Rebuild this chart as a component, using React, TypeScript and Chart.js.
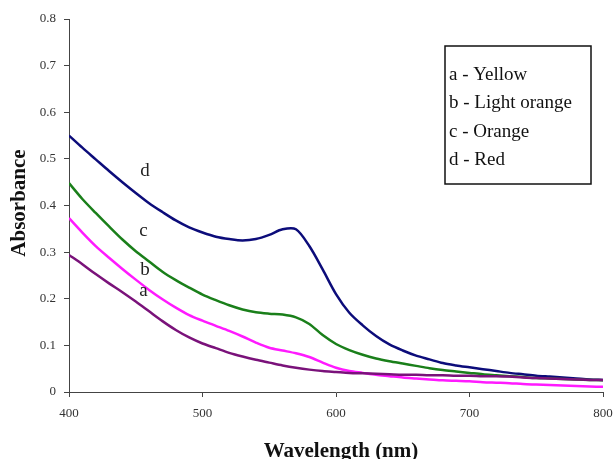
import React, { useEffect, useRef } from "react";
import { Chart, registerables } from "chart.js";

Chart.register(...registerables);

const wavelengths = [
  400, 410, 420, 430, 440, 450, 460, 470, 480, 490, 500, 510, 520, 530, 540, 550, 560, 570, 580, 590,
  600, 610, 620, 630, 640, 650, 660, 670, 680, 690, 700, 710, 720, 730, 740, 750, 760, 770, 780, 790, 800,
];

const seriesA = [
  0.294, 0.274, 0.253, 0.233, 0.214, 0.194, 0.173, 0.152, 0.133, 0.117, 0.104, 0.094, 0.084, 0.076, 0.069,
  0.063, 0.057, 0.052, 0.048, 0.045, 0.043, 0.041, 0.040, 0.039, 0.038, 0.037, 0.037, 0.036, 0.036, 0.035,
  0.035, 0.034, 0.034, 0.033, 0.031, 0.030, 0.029, 0.028, 0.027, 0.026, 0.026,
];

const seriesB = [
  0.373, 0.342, 0.313, 0.288, 0.264, 0.241, 0.219, 0.199, 0.181, 0.165, 0.153, 0.142, 0.131, 0.119, 0.106,
  0.095, 0.089, 0.083, 0.075, 0.063, 0.052, 0.045, 0.041, 0.037, 0.034, 0.031, 0.029, 0.027, 0.025, 0.024,
  0.023, 0.021, 0.020, 0.019, 0.017, 0.016, 0.015, 0.014, 0.013, 0.012, 0.011,
];

const seriesC = [
  0.448, 0.414, 0.384, 0.355, 0.327, 0.302, 0.280, 0.258, 0.240, 0.224, 0.209, 0.197, 0.186, 0.177, 0.171,
  0.168, 0.166, 0.160, 0.146, 0.122, 0.103, 0.090, 0.080, 0.072, 0.066, 0.061, 0.056, 0.051, 0.047, 0.044,
  0.041, 0.038, 0.036, 0.034, 0.032, 0.030, 0.029, 0.028, 0.027, 0.026, 0.025,
];

const seriesD = [
  0.550, 0.524, 0.499, 0.474, 0.450, 0.427, 0.405, 0.386, 0.368, 0.353, 0.342, 0.333, 0.328, 0.325, 0.328,
  0.337, 0.349, 0.349, 0.313, 0.263, 0.210, 0.170, 0.143, 0.120, 0.102, 0.089, 0.078, 0.070, 0.062, 0.057,
  0.053, 0.049, 0.045, 0.041, 0.038, 0.035, 0.033, 0.031, 0.029, 0.027, 0.026,
];

const seriesNames = ["a", "b", "c", "d"];
const seriesColors = ["#7a127a", "#ff1aff", "#1a7f1a", "#0c0c7a"];
const legendLines = ["a - Yellow", "b - Light orange", "c - Orange", "d - Red"];

// curve letter labels placed in data coordinates (wavelength, absorbance baseline)
const curveLabelX = [455.7, 457, 455.7, 457];
const curveLabelY = [0.2053, 0.2514, 0.334, 0.4625];

const yTicks = [0, 0.1, 0.2, 0.3, 0.4, 0.5, 0.6, 0.7, 0.8];
const xTickStep = 100;

const SERIF = "'Liberation Serif', 'Times New Roman', serif";

const overlayPlugin = {
  id: "overlay",
  afterDraw(chart: any) {
    const ctx = chart.ctx;
    const xs = chart.scales.x;
    const ys = chart.scales.y;
    ctx.save();
    // curve letters
    ctx.fillStyle = "#222";
    ctx.font = `19px ${SERIF}`;
    ctx.textAlign = "center";
    ctx.textBaseline = "alphabetic";
    seriesNames.forEach((n, i) => {
      ctx.fillText(n, xs.getPixelForValue(curveLabelX[i]), ys.getPixelForValue(curveLabelY[i]));
    });

    // legend box
    const bx = 445, by = 46, bw = 146, bh = 138;
    ctx.strokeStyle = "#111";
    ctx.lineWidth = 1.5;
    ctx.strokeRect(bx, by, bw, bh);
    ctx.fillStyle = "#111";
    ctx.textAlign = "left";
    ctx.font = `19px ${SERIF}`;
    legendLines.forEach((t, i) => {
      ctx.fillText(t, 449, 79.5 + i * 28.5);
    });

    // axis titles
    ctx.font = `bold 21px ${SERIF}`;
    ctx.fillStyle = "#111";
    ctx.textAlign = "center";
    ctx.fillText("Wavelength (nm)", 341, 457);
    ctx.translate(25, 203);
    ctx.rotate(-Math.PI / 2);
    ctx.fillText("Absorbance", 0, 0);
    ctx.restore();
  },
};

export default function App() {
  const ref = useRef<HTMLCanvasElement | null>(null);

  useEffect(() => {
    if (!ref.current) return;
    const datasets = [seriesA, seriesB, seriesC, seriesD].map((s, i) => ({
      label: seriesNames[i],
      data: s.map((v, j) => ({ x: wavelengths[j], y: v })),
      borderColor: seriesColors[i],
      backgroundColor: seriesColors[i],
      borderWidth: 2.5,
      pointRadius: 0,
      tension: 0.3,
      fill: false,
    }));
    const chart = new Chart(ref.current, {
      type: "line",
      data: { datasets },
      options: {
        animation: false,
        responsive: false,
        devicePixelRatio: 1,
        layout: { padding: { left: 0, top: 19, right: 12, bottom: 0 } },
        plugins: { legend: { display: false }, tooltip: { enabled: false } },
        scales: {
          x: {
            type: "linear",
            min: wavelengths[0],
            max: wavelengths[wavelengths.length - 1],
            afterFit: (s: any) => {
              s.height = 67;
              s.paddingLeft = 0;
              s.paddingRight = 0;
            },
            ticks: {
              stepSize: xTickStep,
              padding: 9,
              color: "#333",
              font: { family: SERIF, size: 13 },
            },
            grid: { drawOnChartArea: false, drawTicks: true, tickLength: 5, color: "#444" },
            border: { display: true, color: "#444", width: 1 },
          },
          y: {
            min: yTicks[0],
            max: yTicks[yTicks.length - 1],
            afterFit: (s: any) => {
              s.width = 69;
              s.paddingTop = 0;
              s.paddingBottom = 0;
            },
            afterBuildTicks: (s: any) => {
              s.ticks = yTicks.map((v) => ({ value: v }));
            },
            ticks: {
              padding: 8,
              color: "#333",
              font: { family: SERIF, size: 13 },
              callback: (v: any) => (Number(v) === 0 ? "0" : Number(v).toFixed(1)),
            },
            grid: { drawOnChartArea: false, drawTicks: true, tickLength: 5, color: "#444" },
            border: { display: true, color: "#444", width: 1 },
          },
        },
      },
      plugins: [overlayPlugin],
    });
    return () => chart.destroy();
  }, []);

  return (
    <div style={{ position: "absolute", left: 0, top: 0, width: 615, height: 459, background: "#fff" }}>
      <canvas ref={ref} width={615} height={459} style={{ width: 615, height: 459, display: "block" }} />
    </div>
  );
}
